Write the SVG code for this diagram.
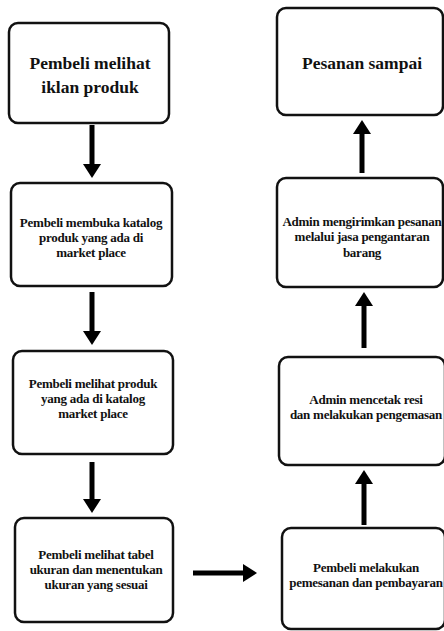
<svg xmlns="http://www.w3.org/2000/svg" width="444" height="631" viewBox="0 0 444 631">
<style>
.box{fill:#fff;stroke:#111;stroke-width:2.5}
.t{font-family:"Liberation Serif","Times New Roman",serif;font-weight:bold;fill:#111;text-anchor:middle}
.big{font-size:17.5px}
.sm{font-size:13px;letter-spacing:-0.25px}
.arr{stroke:#000;stroke-width:5;fill:none;marker-end:url(#ah)}
</style>
<defs>
<marker id="ah" markerUnits="userSpaceOnUse" markerWidth="14" markerHeight="18" refX="0" refY="9" orient="auto">
<path d="M0,0 L14,9 L0,18 z" fill="#000"/>
</marker>
</defs>
<rect width="444" height="631" fill="#fff"/>
<g id="n1"><rect class="box" x="9" y="23" width="160" height="100" rx="9"/>
<text class="t big" x="90" y="69">Pembeli melihat</text><text class="t big" x="90" y="93">iklan produk</text></g>
<g id="n2"><rect class="box" x="11" y="183" width="161" height="103" rx="9"/>
<text class="t sm" x="91" y="227">Pembeli membuka katalog</text><text class="t sm" x="91" y="242">produk yang ada di</text><text class="t sm" x="91" y="257">market place</text></g>
<g id="n3"><rect class="box" x="13" y="351" width="160" height="103" rx="9"/>
<text class="t sm" x="93" y="388">Pembeli melihat produk</text><text class="t sm" x="93" y="403">yang ada di katalog</text><text class="t sm" x="93" y="418">market place</text></g>
<g id="n4"><rect class="box" x="15" y="518" width="158" height="104" rx="9"/>
<text class="t sm" x="96" y="559">Pembeli melihat tabel</text><text class="t sm" x="96" y="574">ukuran dan menentukan</text><text class="t sm" x="96" y="589">ukuran yang sesuai</text></g>
<g id="n5"><rect class="box" x="277" y="8" width="166" height="107" rx="9"/>
<text class="t big" x="362" y="69">Pesanan sampai</text></g>
<g id="n6"><rect class="box" x="277" y="178" width="166" height="109" rx="9"/>
<text class="t sm" x="362" y="226">Admin mengirimkan pesanan</text><text class="t sm" x="362" y="241">melalui jasa pengantaran</text><text class="t sm" x="362" y="257">barang</text></g>
<g id="n7"><rect class="box" x="279" y="357" width="166" height="108" rx="9"/>
<text class="t sm" x="366" y="404">Admin mencetak resi</text><text class="t sm" x="366" y="419">dan melakukan pengemasan</text></g>
<g id="n8"><rect class="box" x="282" y="528" width="163" height="101" rx="9"/>
<text class="t sm" x="366" y="572">Pembeli melakukan</text><text class="t sm" x="366" y="587">pemesanan dan pembayaran</text></g>
<g id="connectors">
<line class="arr" x1="92" y1="125" x2="92" y2="164"/>
<line class="arr" x1="92" y1="292" x2="92" y2="331"/>
<line class="arr" x1="92" y1="462" x2="92" y2="499"/>
<line class="arr" x1="193" y1="573" x2="243" y2="573"/>
<line class="arr" x1="362" y1="173" x2="362" y2="134"/>
<line class="arr" x1="364" y1="348" x2="364" y2="306"/>
<line class="arr" x1="364" y1="525" x2="364" y2="484"/>
</g>
</svg>
